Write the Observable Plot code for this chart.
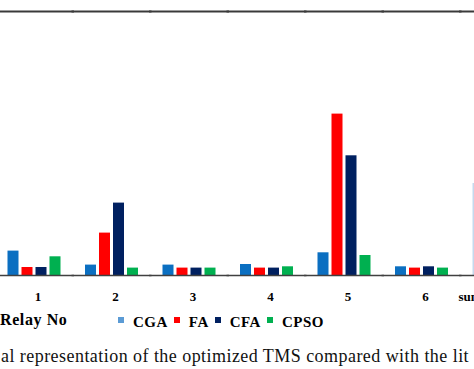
<!DOCTYPE html>
<html>
<head>
<meta charset="utf-8">
<script src="https://cdn.jsdelivr.net/npm/d3@7"></script>
<script src="https://cdn.jsdelivr.net/npm/@observablehq/plot@0.6"></script>
<style>
  html, body { margin: 0; padding: 0; background: #fff; }
  #wrap { position: relative; width: 474px; height: 369px; overflow: hidden; font-family: "Liberation Serif", serif; }
  #chart { position: absolute; left: 0; top: 0; width: 533px; }
  #chart svg { max-width: none !important; }
  #axisTitle { position: absolute; left: 0; top: 311px; font-weight: bold; font-size: 16px; line-height: 18px; letter-spacing: 0.6px; color: #000; white-space: nowrap; }
  #legend { position: absolute; left: 118px; top: 313px; display: flex; align-items: center; font-weight: bold; font-size: 15px; line-height: 18px; letter-spacing: 0.5px; white-space: nowrap; }
  #legend .sw { display: inline-block; width: 6px; height: 6px; margin-right: 9px; margin-top: -5px; }
  #legend .it { display: inline-flex; align-items: center; margin-right: 6px; }
  #caption { position: absolute; left: 1px; top: 346px; font-size: 18px; line-height: 20px; white-space: nowrap; color: #111; letter-spacing: 0.45px; }
</style>
</head>
<body>
<div id="wrap">
  <div id="chart"></div>
  <div id="axisTitle"></div>
  <div id="legend"></div>
  <div id="caption"></div>
</div>
<script>
// ---- data ----
const relays = ["1", "2", "3", "4", "5", "6", "sum of the TMS"];
const series = ["CGA", "FA", "CFA", "CPSO"];
const CGA  = [0.244, 0.104, 0.104, 0.110, 0.227, 0.087];
const FA   = [0.080, 0.424, 0.074, 0.074, 1.614, 0.074];
const CFA  = [0.080, 0.724, 0.074, 0.074, 1.197, 0.087];
const CPSO = [0.187, 0.074, 0.074, 0.087, 0.200, 0.074];
const sumCGA = 0.92;
const barColors = ["#0b6fc1", "#ff0000", "#002060", "#00b050"];
const sumColors = ["#c5d9ee", "#f4b6b6", "#8fa3c8", "#a9dcbc"];
const legendColors = ["#5b9bd5", "#ff0000", "#002060", "#00b050"];
const axisTitle = "Relay No";
const captionText = "al representation of the optimized TMS compared with the lit";
const yMax = 2.64;

// ---- build table ----
const values = {CGA, FA, CFA, CPSO};
const rows = [];
series.forEach((s, si) => {
  values[s].forEach((v, i) => rows.push({relay: relays[i], series: s, value: v, color: barColors[si]}));
});
rows.push({relay: relays[6], series: "CGA", value: sumCGA, color: sumColors[0]});

const chart = Plot.plot({
  width: 533,
  height: 306,
  marginLeft: 0,
  marginRight: 0,
  marginTop: 11,
  marginBottom: 31,
  style: {fontFamily: "Liberation Serif, serif", background: "transparent", overflow: "visible", maxWidth: "none"},
  fx: {domain: relays, paddingInner: 0.2774, paddingOuter: 0.0774, round: false, label: null},
  x: {domain: series, paddingInner: 0.2143, paddingOuter: 0.1071, round: false, axis: null},
  y: {domain: [0, yMax], axis: null},
  marks: [
    Plot.barY(rows, {fx: "relay", x: "series", y: "value", fill: "color"}),
    Plot.ruleY([0], {stroke: "#404040", strokeWidth: 1.5, insetLeft: -12, insetRight: -12}),
    Plot.ruleY([yMax], {stroke: "#3a3a3a", strokeWidth: 2, insetLeft: -12, insetRight: -12}),
    Plot.axisFx({anchor: "bottom", tickSize: 0, tickPadding: 16, dx: 3.5, fontSize: 13, fontWeight: "bold", fill: "#000", label: null})
  ]
});
document.getElementById("chart").appendChild(chart);

document.getElementById("axisTitle").textContent = axisTitle;
const lg = document.getElementById("legend");
series.forEach((s, i) => {
  const it = document.createElement("span");
  it.className = "it";
  const sw = document.createElement("span");
  sw.className = "sw";
  sw.style.background = legendColors[i];
  it.appendChild(sw);
  const t = document.createElement("span");
  t.textContent = s;
  it.appendChild(t);
  lg.appendChild(it);
});
document.getElementById("caption").textContent = captionText;
</script>
</body>
</html>
